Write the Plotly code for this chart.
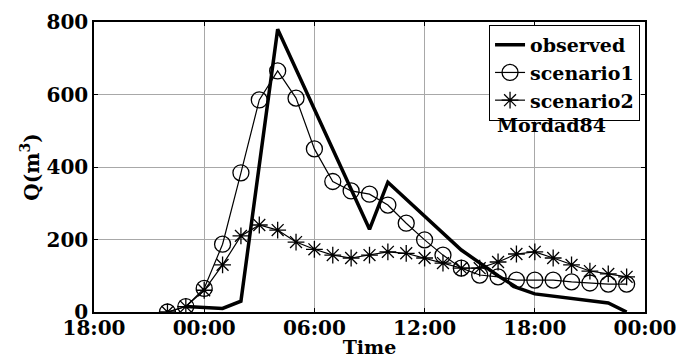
import plotly.graph_objects as go

# Hourly discharge for the Mordad84 event
obs_time = ["2005-08-01 23:00", "2005-08-02 00:00", "2005-08-02 01:00", "2005-08-02 02:00",
            "2005-08-02 04:00", "2005-08-02 09:00", "2005-08-02 10:00", "2005-08-02 14:00",
            "2005-08-02 15:00", "2005-08-02 16:00", "2005-08-02 17:00", "2005-08-02 18:00",
            "2005-08-02 22:00", "2005-08-02 23:00"]
observed = [15, 12, 10, 30, 780, 228, 358, 171, 135, 100, 68, 50, 25, 0]

sim_time = ["2005-08-01 22:00", "2005-08-01 23:00"] + \
           [f"2005-08-02 {h:02d}:00" for h in range(0, 24)]
scenario1 = [0, 15, 65, 187, 384, 585, 665, 590, 450, 360, 334, 325,
             295, 245, 199, 157, 121, 102, 97, 88, 88, 88, 83, 80, 77, 77]
scenario2 = [0, 15, 60, 130, 210, 240, 226, 193, 173, 157, 149, 157,
             166, 162, 149, 135, 121, 121, 138, 160, 166, 149, 130, 113, 105, 97]

serif = "DejaVu Serif"
bold = dict(family=serif, color="black", weight="bold")

fig = go.Figure()
fig.add_trace(go.Scatter(x=obs_time, y=observed, mode="lines", name="observed",
                         line=dict(color="black", width=3.5)))
fig.add_trace(go.Scatter(x=sim_time, y=scenario1, mode="lines+markers", name="scenario1",
                         line=dict(color="black", width=1.2),
                         marker=dict(symbol="circle-open", size=16,
                                     line=dict(color="black", width=1.3))))
fig.add_trace(go.Scatter(x=sim_time, y=scenario2, mode="lines+markers", name="scenario2",
                         line=dict(color="black", width=1.2),
                         marker=dict(symbol="asterisk-open", size=14,
                                     line=dict(color="black", width=1.3))))

axis_common = dict(showline=True, linecolor="black", linewidth=1.5, mirror="ticks",
                   ticks="inside", ticklen=4, tickcolor="black", automargin=False,
                   ticklabeloverflow="allow",
                   showgrid=True, gridcolor="#a8a8a8", gridwidth=1, zeroline=False,
                   tickfont=dict(size=20, **bold))

fig.update_xaxes(type="date", range=["2005-08-01 18:00", "2005-08-03 00:00"],
                 dtick=6 * 3600 * 1000, tick0="2005-08-01 18:00", tickformat="%H:%M",
                 ticklabelstandoff=-3,
                 title=dict(text="Time", standoff=0, font=dict(size=19, **bold)),
                 **axis_common)
fig.update_yaxes(range=[0, 800], dtick=200,
                 title=dict(text="Q(m<sup>3</sup>)", standoff=2, font=dict(size=20, **bold)),
                 **axis_common)

fig.add_annotation(text="Mordad84", xref="paper", yref="paper", x=0.831, y=0.645,
                   xanchor="center", yanchor="middle", showarrow=False,
                   font=dict(size=19, **bold))

fig.update_layout(
    width=676, height=358,
    margin=dict(l=94, r=31, t=22, b=46),
    plot_bgcolor="white", paper_bgcolor="white",
    legend=dict(x=0.991, y=0.99, xanchor="right", yanchor="top",
                bgcolor="white", bordercolor="black", borderwidth=1,
                font=dict(size=19, **bold),
                tracegroupgap=0, itemwidth=30),
)

fig.write_html("out.html")
